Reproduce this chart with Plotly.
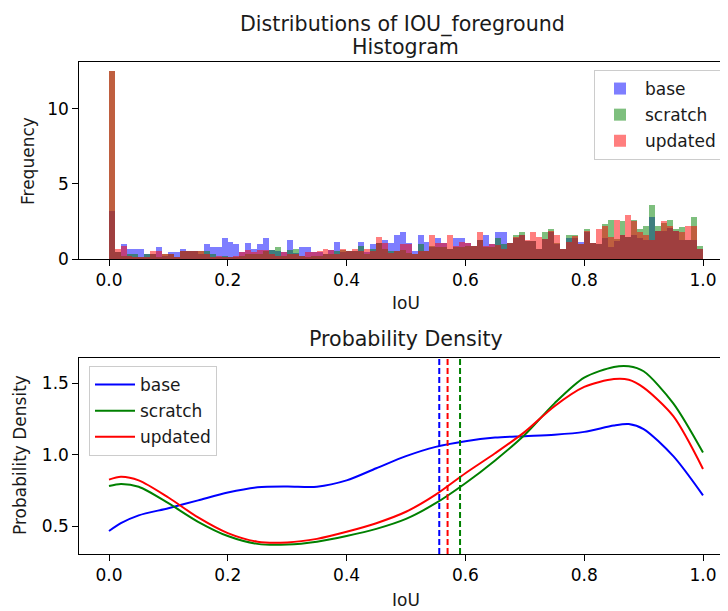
import numpy as np
import plotly.graph_objects as go

# ---------------- data ----------------
series_names = ["base", "scratch", "updated"]
series_colors = ["blue", "green", "red"]

bin_edges = np.linspace(0.0, 1.0, 101)

hist_base = [
    3.2, 0.45, 1.0, 0.65, 0.65, 0.65, 0.3, 0.3, 0.8, 0.15,
    0.45, 0.45, 0.65, 0.5, 0.5, 0.3, 1.0, 0.8, 0.8, 1.4,
    1.1, 1.0, 0.45, 1.05, 0.65, 1.0, 1.4, 0.6, 0.5, 0.45,
    1.25, 0.35, 0.8, 0.8, 0.45, 0.45, 0.3, 0.6, 1.1, 0.45,
    0.5, 0.5, 1.1, 0.45, 1.0, 1.05, 1.25, 1.05, 1.6, 1.75,
    1.05, 0.5, 1.6, 1.1, 0.8, 1.4, 1.05, 0.65, 1.4, 1.4,
    1.05, 0.85, 1.25, 1.6, 1.0, 1.75, 1.75, 1.05, 1.4, 1.55,
    1.2, 1.2, 0.65, 1.3, 1.8, 1.0, 0.65, 1.4, 1.4, 1.1,
    1.8, 1.05, 1.0, 1.4, 0.8, 1.2, 1.6, 1.42, 1.6, 1.4,
    1.27, 2.75, 1.82, 1.82, 2.04, 1.82, 1.27, 1.27, 1.27, 0.64,
]
hist_scratch = [
    12.5, 0.45, 0.2, 0.33, 0.3, 0.1, 0.3, 0.3, 0.1, 0.3,
    0.3, 0.1, 0.5, 0.5, 0.5, 0.5, 0.5, 0.3, 0.1, 0.2,
    0.1, 0.1, 0.2, 0.3, 0.3, 0.3, 0.5, 0.6, 0.8, 0.2,
    0.6, 0.65, 0.2, 0.1, 0.2, 0.2, 0.3, 0.3, 0.5, 0.6,
    0.5, 0.5, 0.82, 0.3, 0.65, 1.05, 0.65, 0.5, 0.5, 0.6,
    0.4, 0.3, 1.0, 0.5, 0.82, 0.8, 0.8, 0.65, 0.8, 0.8,
    0.85, 0.85, 1.25, 0.8, 0.8, 1.4, 1.0, 1.05, 1.6, 1.78,
    1.2, 1.2, 0.65, 1.78, 2.0, 1.05, 0.65, 1.6, 1.6, 1.0,
    2.0, 1.05, 1.0, 2.33, 2.6, 1.3, 2.5, 1.42, 2.6, 1.95,
    2.2, 3.55, 2.15, 2.4, 2.6, 2.0, 2.1, 1.27, 2.78, 0.82,
]
hist_updated = [
    12.5, 0.64, 0.82, 0.15, 0.1, 0.1, 0.1, 0.5, 0.5, 0.3,
    0.3, 0.1, 0.5, 0.5, 0.5, 0.5, 0.3, 0.1, 0.2, 0.1,
    0.1, 0.2, 0.45, 0.6, 0.45, 0.6, 0.6, 0.3, 0.2, 0.45,
    0.3, 0.3, 0.2, 0.45, 0.45, 0.5, 0.64, 0.6, 0.3, 0.64,
    0.5, 0.64, 0.5, 0.64, 0.5, 1.42, 1.05, 0.4, 0.5, 1.0,
    1.0, 0.3, 0.5, 0.5, 1.6, 1.04, 1.05, 1.6, 0.82, 1.1,
    1.05, 0.87, 1.78, 0.82, 1.0, 0.9, 0.65, 1.05, 1.42, 1.6,
    1.22, 1.78, 1.42, 1.3, 1.82, 1.6, 0.65, 1.1, 1.5, 1.0,
    1.82, 1.05, 2.0, 2.2, 1.42, 2.6, 1.6, 2.93, 2.5, 1.76,
    1.6, 1.27, 1.82, 2.5, 2.2, 1.82, 1.8, 2.2, 2.2, 0.64,
]

kde_x = [0.0, 0.02, 0.05, 0.1, 0.15, 0.2, 0.25, 0.3, 0.35, 0.4, 0.45, 0.5,
         0.55, 0.6, 0.65, 0.7, 0.75, 0.8, 0.85, 0.875, 0.9, 0.95, 1.0]
kde_base = [0.465, 0.52, 0.575, 0.625, 0.68, 0.735, 0.772, 0.778, 0.776, 0.82,
            0.905, 0.99, 1.055, 1.095, 1.12, 1.13, 1.14, 1.16, 1.205, 1.215,
            1.18, 0.99, 0.715]
kde_scratch = [0.78, 0.795, 0.775, 0.66, 0.53, 0.43, 0.375, 0.37, 0.39, 0.43,
               0.48, 0.55, 0.66, 0.80, 0.96, 1.14, 1.36, 1.54, 1.615, 1.62,
               1.585, 1.36, 1.015]
kde_updated = [0.825, 0.845, 0.82, 0.70, 0.56, 0.45, 0.39, 0.385, 0.41, 0.46,
               0.52, 0.60, 0.72, 0.87, 1.01, 1.16, 1.34, 1.475, 1.53, 1.525,
               1.47, 1.27, 0.90]

mean_values = [0.556, 0.591, 0.570]

x_tick_vals = [0.0, 0.2, 0.4, 0.6, 0.8, 1.0]
x_tick_text = ["0.0", "0.2", "0.4", "0.6", "0.8", "1.0"]
hist_y_ticks = [0, 5, 10]
hist_y_text = ["0", "5", "10"]
kde_y_ticks = [0.5, 1.0, 1.5]
kde_y_text = ["0.5", "1.0", "1.5"]

# ---------------- figure ----------------
W, H = 728, 611
OFF = 8  # page body margin offset
FONT = "DejaVu Sans"
fig = go.Figure()

centers = (bin_edges[:-1] + bin_edges[1:]) / 2
widths = np.diff(bin_edges)
for name, color, vals in zip(series_names, series_colors,
                             [hist_base, hist_scratch, hist_updated]):
    fig.add_trace(go.Bar(
        x=centers, y=vals, width=widths, name=name, legendgroup="h" + name,
        marker=dict(color=color, line=dict(width=0)), opacity=0.5,
        xaxis="x", yaxis="y", legend="legend",
    ))

for name, color, vals in zip(series_names, series_colors,
                             [kde_base, kde_scratch, kde_updated]):
    fig.add_trace(go.Scatter(
        x=kde_x, y=vals, mode="lines", name=name, legendgroup="k" + name,
        line=dict(color=color, width=2, shape="spline", smoothing=0.8),
        xaxis="x2", yaxis="y2", legend="legend2",
    ))

for m, color in zip(mean_values, series_colors):
    fig.add_shape(type="line", x0=m, x1=m, y0=0, y1=1,
                  xref="x2", yref="y2 domain",
                  line=dict(color=color, width=2, dash="6px,3px"))

def px_x(p):
    return (p - OFF) / W

def px_y(p):
    return 1 - (p - OFF) / H

PXU = 594.0
x_left_px = 109.0 - 0.05 * PXU
x_right_px = 109.0 + 1.05 * PXU
dom_x = [px_x(x_left_px), px_x(x_right_px)]
xr = [-0.05, 1.05]

axis_common = dict(
    showline=True, linecolor="black", linewidth=1, mirror=True,
    ticks="outside", ticklen=6, tickwidth=1, tickcolor="black",
    showgrid=False, zeroline=False, automargin=False,
    tickfont=dict(family=FONT, size=17, color="black"),
)

legend_common = dict(
    bgcolor="white", bordercolor="#cccccc", borderwidth=1,
    font=dict(family=FONT, size=17, color="#1a1a1a"),
    tracegroupgap=1, itemwidth=40,
)

fig.update_layout(
    width=W, height=H,
    margin=dict(l=0, r=0, t=0, b=0, autoexpand=False),
    paper_bgcolor="white", plot_bgcolor="white",
    barmode="overlay", bargap=0,
    font=dict(family=FONT, size=17, color="black"),
    xaxis=dict(domain=dom_x, range=xr, anchor="y",
               tickvals=x_tick_vals, ticktext=x_tick_text, **axis_common),
    yaxis=dict(domain=[px_y(259), px_y(62.3)], range=[0, 13.1], anchor="x",
               tickvals=hist_y_ticks, ticktext=hist_y_text, **axis_common),
    xaxis2=dict(domain=dom_x, range=xr, anchor="y2",
                tickvals=x_tick_vals, ticktext=x_tick_text, **axis_common),
    yaxis2=dict(domain=[px_y(554), px_y(357.7)], range=[0.304, 1.68], anchor="x2",
                tickvals=kde_y_ticks, ticktext=kde_y_text, **axis_common),
    legend=dict(x=px_x(722), y=px_y(70), xanchor="right", yanchor="top",
                **legend_common),
    legend2=dict(x=px_x(89), y=px_y(366), xanchor="left", yanchor="top",
                 **legend_common),
    showlegend=True,
)

annotations = [
    dict(text="Distributions of IOU_foreground", x=402, y=24, size=20.6),
    dict(text="Histogram", x=406, y=47, size=20.6),
    dict(text="Probability Density", x=406, y=339, size=20.6),
    dict(text="IoU", x=406, y=303, size=17),
    dict(text="IoU", x=406, y=600, size=17),
]
for a in annotations:
    fig.add_annotation(text=a["text"], x=px_x(a["x"]), y=px_y(a["y"]),
                       xref="paper", yref="paper", showarrow=False,
                       xanchor="center", yanchor="middle",
                       font=dict(family=FONT, size=a["size"], color="#1a1a1a"))

for text, xp, yp in [("Frequency", 28, 161), ("Probability Density", 20, 455)]:
    fig.add_annotation(text=text, x=px_x(xp), y=px_y(yp), xref="paper",
                       yref="paper", showarrow=False, textangle=-90,
                       xanchor="center", yanchor="middle",
                       font=dict(family=FONT, size=17, color="#1a1a1a"))

fig.write_html("out.html")
